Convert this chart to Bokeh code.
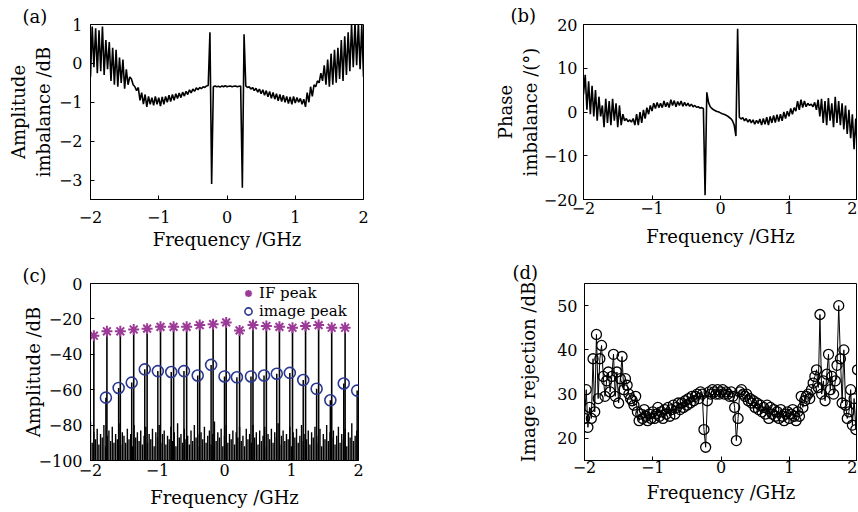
import numpy as np
from bokeh.plotting import figure
from bokeh.layouts import column, row
from bokeh.models import Range1d, FixedTicker, Legend, LegendItem, Title
from bokeh.embed import file_html
from bokeh.resources import INLINE

FONT = "DejaVu Serif"
PURPLE = "#9B3A97"
NAVY = "#2B3890"

# ---------------- data ----------------
# (a) amplitude imbalance, dB, sampled over -2..2 GHz
amp_imbalance_db = [
    -0.35, 0.95, -0.10, 0.90, -0.25, 0.85, -0.20, 0.95, -0.30, 0.60,
    -0.15, 0.55, -0.45, 0.40, -0.55, 0.35, -0.60, 0.15, -0.50, 0.10,
    -0.65, -0.15, -0.55, -0.35, -0.40, -0.55, -0.60, -0.70, -0.62, -0.95,
    -0.75, -1.05, -0.80, -1.12, -0.85, -1.05, -0.88, -1.08, -0.85, -1.05,
    -0.88, -1.10, -0.86, -1.05, -0.85, -1.00, -0.82, -0.98, -0.80, -0.95,
    -0.78, -0.90, -0.76, -0.88, -0.74, -0.84, -0.72, -0.80, -0.68, -0.76,
    -0.66, -0.72, -0.63, -0.68, -0.62, -0.65, -0.60, -0.62, -0.58, -0.57,
    0.80, -3.10, -0.60, -0.58, -0.60, -0.59, -0.61, -0.58, -0.60, -0.57,
    -0.60, -0.59, -0.58, -0.60, -0.59, -0.58, -0.60, -0.59, -0.58, -3.20,
    0.75, -0.58, -0.62, -0.60, -0.66, -0.62, -0.70, -0.64, -0.74, -0.66,
    -0.78, -0.68, -0.82, -0.70, -0.86, -0.72, -0.90, -0.75, -0.92, -0.78,
    -0.96, -0.80, -0.98, -0.82, -1.00, -0.85, -1.03, -0.86, -1.05, -0.85,
    -1.02, -0.88, -1.00, -0.90, -1.05, -0.92, -1.12, -0.75, -1.00, -0.60,
    -0.85, -0.55, -0.60, -0.45, -0.50, -0.25, -0.45, -0.05, -0.55, 0.10,
    -0.60, 0.25, -0.55, 0.35, -0.50, 0.40, -0.40, 0.60, -0.45, 0.70,
    -0.30, 0.80, -0.20, 1.00, -0.10, 1.05, -0.05, 1.05, -0.15, 1.00,
    -0.35,
]

# (b) phase imbalance, degrees
phase_imbalance_deg = [
    4.0, 8.5, 0.5, 7.0, -0.5, 6.0, -1.0, 5.0, -2.0, 3.5,
    -1.0, 1.5, -3.5, 3.0, -2.5, 2.5, -3.0, 3.0, -2.0, 2.0,
    -3.5, 1.5, -3.0, -0.5, -2.0, -1.5, -2.2, -1.8, -2.3, -1.5,
    -3.0, -0.5, -3.0, 0.0, -2.5, 0.5, -1.5, 1.0, -0.5, 1.5,
    0.2, 2.0, 0.8, 2.2, 1.0, 2.0, 1.0, 2.5, 1.2, 2.2,
    1.0, 2.8, 1.5, 2.6, 1.2, 2.4, 1.5, 2.5, 1.3, 2.2,
    1.4, 2.0, 1.3, 1.8, 1.2, 1.5, 1.1, 1.2, 0.9, 1.0,
    0.8, -19.0, 4.5, 2.2, 1.2, 0.8, 0.5, 0.3, 0.1, 0.0,
    -0.2, -0.4, -0.5, -0.7, -0.9, -1.2, -1.5, -2.0, -3.0, -5.5,
    19.0, -1.2, -1.6, -1.3, -2.0, -1.5, -2.3, -1.7, -2.5, -1.8,
    -2.8, -1.9, -2.6, -1.6, -3.0, -1.5, -2.8, -1.2, -3.0, -1.0,
    -2.5, -0.8, -2.4, -0.6, -2.2, -0.5, -2.0, 0.0, -1.5, 0.2,
    -1.0, 0.8, -0.5, 1.0, 0.2, 2.5, 0.5, 2.8, 1.0, 2.5,
    1.2, 2.0, 1.5, 1.8, 1.2, 2.2, 0.5, 2.8, -1.0, 3.0,
    -2.5, 2.5, -3.0, 3.2, -2.0, 2.0, -3.5, 3.5, -2.5, 2.5,
    -3.0, 2.0, -4.0, 1.5, -5.0, 0.5, -6.0, -0.5, -8.5, -1.5,
    -9.5,
]

# (c) spectrum: IF peaks, image peaks and noise floor
if_freq_ghz = [-1.95, -1.755, -1.555, -1.355, -1.155, -0.955, -0.76, -0.565, -0.37, -0.17,
               0.025, 0.225, 0.425, 0.625, 0.82, 1.015, 1.21, 1.405, 1.60, 1.80]
if_peak_db = [-29.5, -27.0, -27.0, -26.0, -25.5, -24.5, -24.5, -24.5, -23.5, -23.0,
              -22.0, -26.5, -23.5, -24.0, -24.5, -25.0, -24.0, -23.5, -25.0, -25.0]
image_freq_ghz = [-1.77, -1.58, -1.385, -1.19, -0.995, -0.795, -0.605, -0.40, -0.20, 0.0,
                  0.185, 0.395, 0.59, 0.78, 0.975, 1.175, 1.375, 1.58, 1.78, 1.98]
image_peak_db = [-64.5, -59.0, -56.0, -48.5, -49.5, -50.0, -49.5, -52.0, -46.0, -52.5,
                 -53.0, -52.5, -52.0, -51.0, -50.5, -54.5, -59.5, -66.0, -56.5, -60.5]
noise_floor_db = [
    -78, -90, -84, -88, -82, -91, -85, -87, -80, -92, -86, -83, -89, -81, -90, -85, -88, -79, -91, -84,
    -86, -90, -82, -88, -85, -92, -80, -87, -84, -89, -83, -91, -86, -81, -90, -85, -88, -82, -92, -84,
    -87, -80, -90, -85, -83, -91, -86, -88, -81, -89, -84, -92, -79, -87, -85, -90, -82, -88, -86, -91,
    -83, -89, -80, -87, -85, -92, -84, -88, -81, -90, -86, -83, -91, -85, -78, -89, -84, -87, -82, -92,
    -86, -80, -90, -85, -88, -83, -91, -84, -87, -81, -89, -86, -92, -82, -88, -85, -90, -80, -87, -84,
    -91, -83, -89, -86, -81, -92, -85, -88, -82, -90, -84, -87, -79, -91, -86, -83, -89, -85, -88, -81,
    -92, -84, -87, -82, -90, -86, -80, -89, -85, -88, -83, -91, -84, -87, -81, -90, -86, -82, -92, -85,
    -88, -80, -89, -84, -87, -83, -91, -86, -81, -90, -85, -88, -82, -92, -84, -87, -79, -89, -86, -83, -75,
]
SPECTRUM_FLOOR = -100

# (d) image rejection, dB
image_rejection_db = [
    24.5, 31.0, 22.5, 27.0, 24.5, 38.0, 26.0, 43.5, 29.0, 38.0,
    41.0, 34.0, 29.5, 33.0, 35.0, 30.5, 34.0, 39.0, 29.5, 35.0,
    28.0, 33.5, 38.5, 31.0, 33.5, 32.0, 30.0, 29.0, 28.5, 27.5,
    29.5, 26.0, 24.0, 25.5, 24.5, 26.5, 25.0, 24.0, 25.5, 24.5,
    26.0, 24.5, 25.5, 27.0, 25.0, 26.0, 24.5, 26.5, 25.5, 27.0,
    25.0, 26.5, 27.5, 25.5, 27.0, 28.0, 26.5, 28.0, 27.0, 28.5,
    27.5, 29.0, 28.0, 29.5, 28.5, 29.5, 30.0, 29.0, 30.5, 30.0,
    22.0, 18.0, 28.5, 30.5, 30.0, 31.0, 30.5, 30.0, 31.0, 30.0,
    30.5, 31.0, 30.0, 30.5, 30.0, 29.5, 30.5, 29.5, 27.0, 19.5,
    24.5, 30.5, 31.0, 30.0, 29.5, 30.0, 28.5, 29.0, 28.0, 28.5,
    27.0, 28.0, 26.5, 27.5, 26.0, 27.0, 25.5, 27.5, 24.5, 27.0,
    25.5, 26.5, 25.0, 26.0, 24.5, 26.5, 25.0, 24.0, 25.5, 26.0,
    24.5, 25.5, 26.5, 25.0, 24.0, 26.0, 25.0, 29.5, 27.0, 28.5,
    29.5, 30.0, 29.0, 31.0, 32.5, 34.0, 35.5, 31.5, 48.0, 30.0,
    33.0, 28.5, 34.5, 39.0, 31.0, 34.0, 30.0, 33.0, 36.5, 50.0,
    38.0, 28.0, 40.0, 27.5, 24.5, 26.0, 31.0, 23.0, 29.0, 22.0,
    35.5,
]

# ticks
freq_ticks = [-2, -1, 0, 1, 2]
freq_tick_labels = ["\u22122", "\u22121", "0", "1", "2"]
amp_ticks = [-3, -2, -1, 0, 1]
amp_tick_labels = ["\u22123", "\u22122", "\u22121", "0", "1"]
phase_ticks = [-20, -10, 0, 10, 20]
phase_tick_labels = ["\u221220", "\u221210", "0", "10", "20"]
spec_ticks = [-100, -80, -60, -40, -20, 0]
spec_tick_labels = ["\u2212100", "\u221280", "\u221260", "\u221240", "\u221220", "0"]
rej_ticks = [20, 30, 40, 50]
rej_tick_labels = ["20", "30", "40", "50"]


def make_fig(width, height, left, right, top, bottom, y_rng):
    p = figure(width=width, height=height, x_range=Range1d(-2, 2), y_range=Range1d(*y_rng),
               output_backend="svg", toolbar_location=None, tools="", title=None,
               min_border_left=left, min_border_right=right,
               min_border_top=top, min_border_bottom=bottom)
    p.grid.visible = False
    p.outline_line_color = "black"
    p.outline_line_alpha = 1.0
    p.outline_line_width = 1
    p.background_fill_color = "white"
    p.border_fill_color = "white"
    return p


def style_axes(p, yticks, ylabels, ylabel, x_standoff, xlab_standoff, y_standoff, ylab_standoff):
    for ax in (p.xaxis[0], p.yaxis[0]):
        ax.axis_line_color = "black"
        ax.major_tick_line_color = "black"
        ax.major_tick_in = 4
        ax.major_tick_out = 0
        ax.minor_tick_line_color = None
        ax.major_label_text_font = FONT
        ax.major_label_text_font_size = "16px"
        ax.major_label_text_color = "black"
        ax.axis_label_text_font = FONT
        ax.axis_label_text_font_size = "18px"
        ax.axis_label_text_font_style = "normal"
        ax.axis_label_text_color = "black"
    p.xaxis[0].ticker = FixedTicker(ticks=freq_ticks)
    p.xaxis[0].major_label_overrides = dict(zip(freq_ticks, freq_tick_labels))
    p.xaxis[0].major_label_standoff = x_standoff
    p.xaxis[0].axis_label = "Frequency /GHz"
    p.xaxis[0].axis_label_standoff = xlab_standoff
    p.yaxis[0].ticker = FixedTicker(ticks=yticks)
    p.yaxis[0].major_label_overrides = dict(zip(yticks, ylabels))
    p.yaxis[0].major_label_standoff = y_standoff
    p.yaxis[0].axis_label = ylabel
    p.yaxis[0].axis_label_standoff = ylab_standoff


def add_panel_letter(p, text, offset, standoff):
    p.add_layout(Title(text=text, align="left", offset=offset, standoff=standoff,
                       vertical_align="bottom", text_font=FONT, text_font_size="18px",
                       text_font_style="normal", text_color="black"), "above")


# ---------------- (a) ----------------
pa = make_fig(430, 256, 90, 67, 23, 57, (-3.5, 1))
style_axes(pa, amp_ticks, amp_tick_labels, "Amplitude\nimbalance /dB", 11, 3, 8, 2)
xa = np.linspace(-2, 2, len(amp_imbalance_db))
pa.line(xa, amp_imbalance_db, line_color="black", line_width=1.6)
add_panel_letter(pa, "(a)", -68, -5)

# ---------------- (b) ----------------
pb = make_fig(427, 256, 153, 0, 24, 54, (-20, 20))
style_axes(pb, phase_ticks, phase_tick_labels, "Phase\nimbalance /(\u00b0)", 2, 9, 6, 0)
xb = np.linspace(-2, 2, len(phase_imbalance_deg))
pb.line(xb, phase_imbalance_deg, line_color="black", line_width=1.6)
add_panel_letter(pb, "(b)", -73, -3)

# ---------------- (c) ----------------
pc = make_fig(430, 256, 90, 72, 23, 52, (-100, 0))
style_axes(pc, spec_ticks, spec_tick_labels, "Amplitude /dB", 3, 8, 8, -8)
xn = np.linspace(-2, 2, len(noise_floor_db))
pc.segment(x0=xn, y0=SPECTRUM_FLOOR, x1=xn, y1=noise_floor_db, line_color="black", line_width=1.4)
pc.segment(x0=image_freq_ghz, y0=SPECTRUM_FLOOR, x1=image_freq_ghz, y1=image_peak_db,
           line_color="black", line_width=1.5)
pc.segment(x0=if_freq_ghz, y0=SPECTRUM_FLOOR, x1=if_freq_ghz, y1=if_peak_db,
           line_color="black", line_width=1.6)
r_if = pc.scatter(if_freq_ghz, if_peak_db, marker="asterisk", size=11,
                  line_color=PURPLE, line_width=2)
r_img = pc.scatter(image_freq_ghz, image_peak_db, marker="circle", size=11,
                   line_color=NAVY, fill_alpha=0, line_width=1.6)
legend = Legend(items=[LegendItem(label="IF peak", renderers=[r_if]),
                       LegendItem(label="image peak", renderers=[r_img])],
                location=(147, 138), margin=0, padding=2, spacing=0,
                glyph_width=18, glyph_height=18, label_height=16, label_standoff=2,
                label_text_font=FONT, label_text_font_size="15px",
                label_text_color="black",
                background_fill_alpha=0, border_line_alpha=0)
pc.add_layout(legend)
add_panel_letter(pc, "(c)", -68, -5)

# ---------------- (d) ----------------
pd_ = make_fig(427, 256, 154, 0, 27, 49, (15, 55))
style_axes(pd_, rej_ticks, rej_tick_labels, "Image rejection /dB", 0, 6, 7, 15)
xd = np.linspace(-2, 2, len(image_rejection_db))
pd_.line(xd, image_rejection_db, line_color="black", line_width=1)
pd_.scatter(xd, image_rejection_db, marker="circle", size=10, line_color="black",
            fill_alpha=0, line_width=1.3)
add_panel_letter(pd_, "(d)", -72, 2)

layout = column(row(pa, pb), row(pc, pd_))

open("out.html", "w", encoding="utf-8").write(file_html(layout, INLINE))
